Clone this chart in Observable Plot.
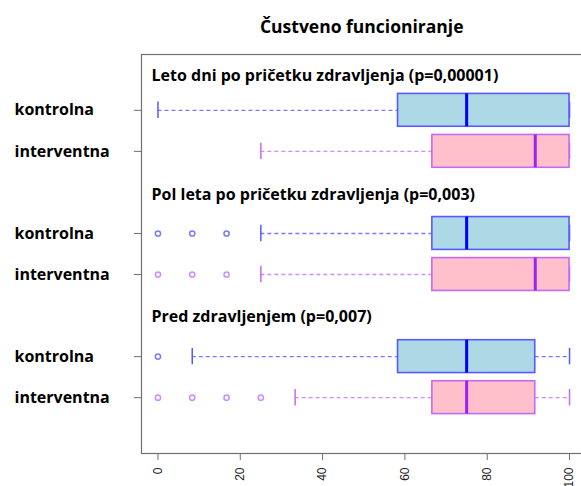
<!DOCTYPE html>
<html>
<head>
<meta charset="utf-8">
<script src="https://cdn.jsdelivr.net/npm/d3@7"></script>
<script src="https://cdn.jsdelivr.net/npm/@observablehq/plot@0.6"></script>
<style>
  html, body { margin: 0; padding: 0; background: #fff; overflow: hidden; }
  #chart svg { display: block; }
</style>
</head>
<body>
<div id="chart"></div>
<script>
// Emotional functioning scores (0–100) for two groups at three time points.
const title = "Čustveno funcioniranje";
const periods = [
  "Leto dni po pričetku zdravljenja (p=0,00001)",
  "Pol leta po pričetku zdravljenja (p=0,003)",
  "Pred zdravljenjem (p=0,007)"
];
const groups = ["kontrolna", "interventna"];

// Box statistics per period, in order [kontrolna, interventna]
const lowerWhisker = [[0, 25], [25, 25], [8.33, 33.33]];
const lowerQuartile = [[58.33, 66.67], [66.67, 66.67], [58.33, 66.67]];
const medians = [[75, 91.67], [75, 91.67], [75, 75]];
const upperQuartile = [[100, 100], [100, 100], [91.67, 91.67]];
const upperWhisker = [[100, 100], [100, 100], [100, 100]];
const outliers = [
  [[], []],
  [[0, 8.33, 16.67], [0, 8.33, 16.67]],
  [[0], [0, 8.33, 16.67, 25]]
];
const xTicks = [0, 20, 40, 60, 80, 100];

// Per-group styling
const boxFill = {kontrolna: "#add8e6", interventna: "#ffc0cb"};
const boxStroke = {kontrolna: "#5959ff", interventna: "#c46af2"};
const medianStroke = {kontrolna: "#0000ff", interventna: "#a020f0"};
const whiskerStroke = {kontrolna: "#7a7aff", interventna: "#cf8cff"};

// Each period takes three slots on the y axis: a heading then two boxes
const rows = [];
const headings = [];
const points = [];
periods.forEach((p, i) => {
  headings.push({label: p, pos: i * 3 + [0.15, 0.07, 0.02][i]});
  groups.forEach((g, j) => {
    const pos = i * 3 + 1 + j;
    rows.push({
      group: g, pos,
      lo: lowerWhisker[i][j], q1: lowerQuartile[i][j], med: medians[i][j],
      q3: upperQuartile[i][j], hi: upperWhisker[i][j]
    });
    outliers[i][j].forEach(v => points.push({group: g, pos, value: v}));
  });
});

const bold = "'Open Sans', Lato, sans-serif";

const chart = Plot.plot({
  width: 581,
  height: 486,
  marginTop: 54,
  marginBottom: 33,
  marginLeft: 141,
  marginRight: -4.5,
  style: {background: "#fff", overflow: "hidden"},
  x: {domain: [-4, 104], axis: null},
  y: {domain: [-0.36, 9.36], reverse: true, axis: null},
  marks: [
    Plot.frame({stroke: "#707070", strokeWidth: 1.2}),
    // whiskers
    Plot.ruleY(rows, {y: "pos", x1: "lo", x2: "q1", stroke: d => whiskerStroke[d.group], strokeWidth: 1.3, strokeDasharray: "4,3"}),
    Plot.ruleY(rows, {y: "pos", x1: "q3", x2: "hi", stroke: d => whiskerStroke[d.group], strokeWidth: 1.3, strokeDasharray: "4,3"}),
    // staples
    Plot.ruleX(rows, {x: "lo", y1: d => d.pos - 0.2, y2: d => d.pos + 0.2, stroke: d => boxStroke[d.group], strokeWidth: 1.5}),
    Plot.ruleX(rows, {x: "hi", y1: d => d.pos - 0.2, y2: d => d.pos + 0.2, stroke: d => boxStroke[d.group], strokeWidth: 1.5}),
    // boxes
    Plot.rect(rows, {x1: "q1", x2: "q3", y1: d => d.pos - 0.4, y2: d => d.pos + 0.4, fill: d => boxFill[d.group], stroke: d => boxStroke[d.group], strokeWidth: 1.6}),
    // medians
    Plot.ruleX(rows, {x: "med", y1: d => d.pos - 0.4, y2: d => d.pos + 0.4, stroke: d => medianStroke[d.group], strokeWidth: 3}),
    // outliers
    Plot.dot(points, {x: "value", y: "pos", r: 2.6, stroke: d => whiskerStroke[d.group], strokeWidth: 1.5, fill: "none"}),
    // axes
    Plot.axisY(rows.map(d => d.pos), {anchor: "left", label: null, tickSize: 7, tickFormat: () => "", stroke: "#707070"}),
    Plot.axisX(xTicks, {anchor: "bottom", label: null, tickSize: 7, tickPadding: 7, tickRotate: -90, stroke: "#707070", fill: "#222", fontSize: 12, fontFamily: "'Liberation Sans', Arial, sans-serif"}),
    // group labels in the left margin
    Plot.text(rows, {y: "pos", text: "group", frameAnchor: "left", dx: -127, textAnchor: "start", fontSize: 16, fontWeight: "bold", fontFamily: bold, fill: "#000"}),
    // period headings
    Plot.text(headings, {y: "pos", text: "label", frameAnchor: "left", dx: 10, textAnchor: "start", fontSize: 16, fontWeight: "bold", fontFamily: bold, fill: "#000"}),
    // title
    Plot.text([title], {frameAnchor: "top", dx: -2, dy: -34, text: d => d, fontSize: 17.5, fontWeight: "bold", fontFamily: bold, fill: "#000"})
  ]
});

document.getElementById("chart").append(chart);
</script>
</body>
</html>
